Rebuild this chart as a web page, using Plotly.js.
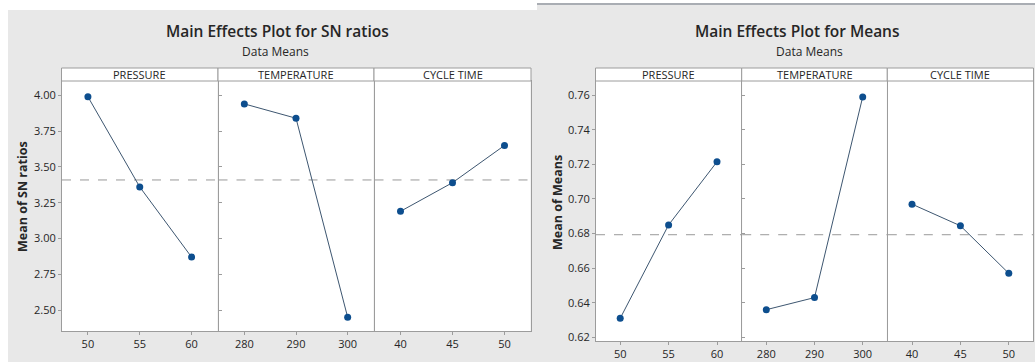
<!DOCTYPE html>
<html>
<head>
<meta charset="utf-8">
<script src="https://cdn.plot.ly/plotly-3.0.1.min.js"></script>
<style>html,body{margin:0;padding:0;background:#fff;}#chart{width:1035px;height:362px;}</style>
</head>
<body>
<div id="chart"></div>
<script>
// ---- data ----
const factorNames = ["PRESSURE", "TEMPERATURE", "CYCLE TIME"];
const pressureLevels = [50, 55, 60];
const temperatureLevels = [280, 290, 300];
const cycleTimeLevels = [40, 45, 50];

const snPressure = [3.99, 3.36, 2.87];
const snTemperature = [3.94, 3.84, 2.45];
const snCycleTime = [3.19, 3.39, 3.65];

const meanPressure = [0.631, 0.685, 0.7215];
const meanTemperature = [0.636, 0.643, 0.759];
const meanCycleTime = [0.697, 0.6845, 0.657];

const snTicks = [2.50, 2.75, 3.00, 3.25, 3.50, 3.75, 4.00];
const meanTicks = [0.62, 0.64, 0.66, 0.68, 0.70, 0.72, 0.74, 0.76];

// ---- layout helpers (pixel -> paper) ----
const W = 1035, H = 362;
const fx = x => x / W;
const fy = y => 1 - y / H;
const avg = arr => arr.reduce((a, b) => a + b, 0) / arr.length;

const levels = [pressureLevels, temperatureLevels, cycleTimeLevels];
const snSeries = [snPressure, snTemperature, snCycleTime];
const meanSeries = [meanPressure, meanTemperature, meanCycleTime];

const leftPanels = [[62, 217.5], [218.5, 373.5], [374.5, 530.5]];
const rightPanels = [[596, 741.2], [742.2, 886.8], [887.8, 1033]];
const stripTop = 68, plotTop = 81, leftBottom = 331, rightBottom = 341;

const lineColor = "#3d5670";
const markerColor = "#0d4e8e";
const frameColor = "#9c9c9c";
const textColor = "#262626";
const font = "Open Sans, Noto Sans, sans-serif";

const traces = [];
const layout = {
  width: W, height: H,
  margin: {l: 0, r: 0, t: 0, b: 0},
  paper_bgcolor: "#e8e8e8",
  plot_bgcolor: "#ffffff",
  showlegend: false,
  font: {family: font, color: textColor, size: 10.5},
  shapes: [], annotations: []
};

// white margins around the two screenshots
layout.shapes.push({type: "rect", xref: "paper", yref: "paper", x0: 0, x1: fx(537), y0: fy(10), y1: 1, fillcolor: "#ffffff", line: {width: 0}, layer: "below"});
layout.shapes.push({type: "rect", xref: "paper", yref: "paper", x0: 0, x1: fx(8), y0: 0, y1: fy(10), fillcolor: "#ffffff", line: {width: 0}, layer: "below"});
layout.shapes.push({type: "rect", xref: "paper", yref: "paper", x0: fx(537), x1: 1, y0: fy(3), y1: 1, fillcolor: "#ffffff", line: {width: 0}, layer: "below"});
layout.shapes.push({type: "line", xref: "paper", yref: "paper", x0: fx(537), x1: 1, y0: fy(4), y1: fy(4), line: {color: "#a9adb3", width: 2}, layer: "below"});

function axisId(letter, n) { return n === 1 ? letter : letter + n; }
function axisKey(letter, n) { return n === 1 ? letter + "axis" : letter + "axis" + n; }

function addChart(panels, bottom, series, yTicks, yRange, axisOffset, yNum, yTitle, titleText, titleX, subX, yTitleX, yTitleY) {
  const overall = avg(series.flat());
  const yId = axisId("y", yNum);
  for (let i = 0; i < 3; i++) {
    const n = axisOffset + i + 1;
    const xId = axisId("x", n);
    const lv = levels[i];
    const step = lv[1] - lv[0];
    layout[axisKey("x", n)] = {
      domain: [fx(panels[i][0]), fx(panels[i][1])],
      anchor: yId,
      range: [lv[0] - step / 2, lv[2] + step / 2],
      tickvals: lv, ticktext: lv.map(String),
      ticks: "outside", ticklen: 3, tickcolor: frameColor,
      showgrid: false, zeroline: false,
      showline: true, mirror: true, linecolor: frameColor, linewidth: 1,
      tickfont: {size: 11, color: textColor}
    };
    traces.push({
      type: "scatter", mode: "lines+markers",
      x: lv, y: series[i],
      xaxis: xId, yaxis: yId,
      line: {color: lineColor, width: 1},
      marker: {color: markerColor, size: 7},
      cliponaxis: false
    });
    // overall mean reference line
    layout.shapes.push({type: "line", xref: xId + " domain", yref: yId,
      x0: 0, x1: 1, y0: overall, y1: overall,
      line: {color: "#999999", width: 1, dash: "dash"}, layer: "below"});
    // strip header
    layout.shapes.push({type: "rect", xref: "paper", yref: "paper",
      x0: fx(panels[i][0] - 0.5), x1: fx(panels[i][1] + 0.5), y0: fy(plotTop), y1: fy(stripTop),
      line: {color: frameColor, width: 1}, fillcolor: "#ffffff", layer: "above"});
    layout.annotations.push({xref: "paper", yref: "paper",
      x: fx((panels[i][0] + panels[i][1]) / 2), y: fy((stripTop + plotTop) / 2 + 0.5),
      text: factorNames[i], showarrow: false, xanchor: "center", yanchor: "middle",
      font: {size: 11, color: textColor}});
  }
  layout[axisKey("y", yNum)] = {
    domain: [fy(bottom), fy(plotTop)],
    anchor: axisId("x", axisOffset + 1),
    range: yRange,
    tickvals: yTicks, ticktext: yTicks.map(v => v.toFixed(2)),
    ticks: "outside", ticklen: 3, tickcolor: frameColor,
    showgrid: false, zeroline: false,
    showline: true, mirror: "all", linecolor: frameColor, linewidth: 1,
    tickfont: {size: 11, color: textColor}
  };
  layout.annotations.push({xref: "paper", yref: "paper", x: fx(titleX), y: fy(31), text: titleText,
    showarrow: false, xanchor: "center", yanchor: "middle", font: {size: 15.5, color: textColor, weight: 600}});
  layout.annotations.push({xref: "paper", yref: "paper", x: fx(subX), y: fy(51), text: "Data Means",
    showarrow: false, xanchor: "center", yanchor: "middle", font: {size: 12, color: textColor}});
  layout.annotations.push({xref: "paper", yref: "paper", x: fx(yTitleX), y: fy(yTitleY), text: yTitle,
    showarrow: false, textangle: -90, xanchor: "center", yanchor: "middle", font: {size: 12.5, color: textColor, weight: 700}});
}

addChart(leftPanels, leftBottom, snSeries, snTicks, [2.354, 4.10], 0, 1, "Mean of SN ratios",
  "Main Effects Plot for SN ratios", 277, 275, 22, 197);
addChart(rightPanels, rightBottom, meanSeries, meanTicks, [0.6179, 0.7682], 3, 2, "Mean of Means",
  "Main Effects Plot for Means", 797.5, 809, 558, 203);

Plotly.newPlot("chart", traces, layout, {staticPlot: true, displayModeBar: false});
</script>
</body>
</html>
